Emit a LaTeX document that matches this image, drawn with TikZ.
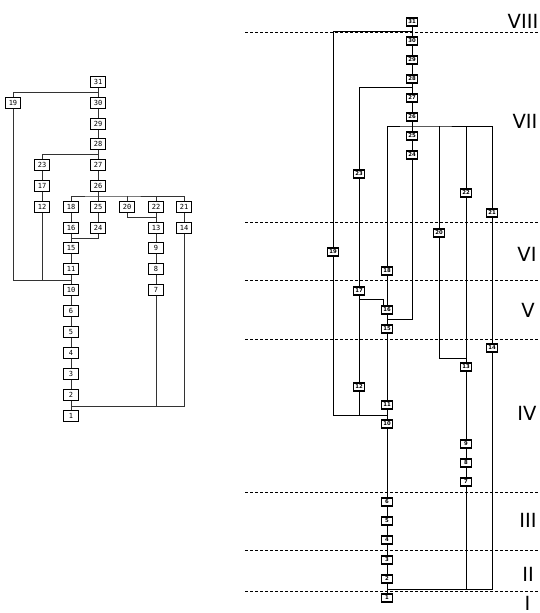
\documentclass[tikz,border=0pt]{standalone}
\usepackage{fontspec}
\setmainfont{DejaVu Sans}
\newfontfamily\monofnt{DejaVu Sans Mono}
\begin{document}
\begin{tikzpicture}[x=1pt,y=-1pt,
  lbox/.style={draw, line width=0.7pt, fill=white, minimum width=14.5pt, minimum height=10.5pt, inner sep=0pt, font=\monofnt\fontsize{7}{7}\selectfont},
  rbox/.style={draw, line width=1.1pt, fill=white, minimum width=11.5pt, minimum height=8pt, inner sep=0pt, font=\fontsize{5.3}{5.3}\selectfont\bfseries},
  lline/.style={line width=0.6pt, black!80},
  rline/.style={line width=0.6pt, black},
  era/.style={line width=0.6pt, dash pattern=on 2.7pt off 2.3pt},
  lab/.style={inner sep=0pt, font=\fontsize{19.5}{19.5}\selectfont}]
\useasboundingbox (0,0) rectangle (539,613);

% ---------- left tree ----------
\node[lbox] (L31) at (98,82) {31};
\node[lbox] (L30) at (98,103) {30};
\node[lbox] (L19) at (13,103) {19};
\node[lbox] (L29) at (98,124) {29};
\node[lbox] (L28) at (98,144) {28};
\node[lbox] (L27) at (98,165) {27};
\node[lbox] (L23) at (42,165) {23};
\node[lbox] (L26) at (98,186) {26};
\node[lbox] (L17) at (42,186) {17};
\node[lbox] (L12) at (42,207) {12};
\node[lbox] (L18) at (71,207) {18};
\node[lbox] (L25) at (98,207) {25};
\node[lbox] (L20) at (127,207) {20};
\node[lbox] (L22) at (156,207) {22};
\node[lbox] (L21) at (184,207) {21};
\node[lbox] (L16) at (71,228) {16};
\node[lbox] (L24) at (98,228) {24};
\node[lbox] (L13) at (156,228) {13};
\node[lbox] (L14) at (184,228) {14};
\node[lbox] (L15) at (71,248) {15};
\node[lbox] (L9) at (156,248) {9};
\node[lbox] (L11) at (71,269) {11};
\node[lbox] (L8) at (156,269) {8};
\node[lbox] (L10) at (71,290) {10};
\node[lbox] (L7) at (156,290) {7};
\node[lbox] (L6) at (71,311) {6};
\node[lbox] (L5) at (71,332) {5};
\node[lbox] (L4) at (71,353) {4};
\node[lbox] (L3) at (71,374) {3};
\node[lbox] (L2) at (71,395) {2};
\node[lbox] (L1) at (71,416) {1};

\coordinate (j1) at (98,92.5);
\coordinate (j2) at (98,154.5);
\coordinate (j3) at (98,196);
\coordinate (j4) at (71,238);
\coordinate (j5) at (156,217);
\coordinate (j6) at (71,280);
\coordinate (j7) at (71,406);

\begin{scope}[lline]
\draw (L19) |- (j1);
\draw (L31) -- (L30);
\draw (L30) -- (L29);
\draw (L29) -- (L28);
\draw (L23) |- (j2);
\draw (L28) -- (L27);
\draw (L27) -- (L26);
\draw (L23) -- (L17);
\draw (L17) -- (L12);
\draw (L18) |- (j3) -| (L21);
\draw (L26) -- (L25);
\draw (L20) -- (L20 |- j3);
\draw (L22) -- (L22 |- j3);
\draw (L18) -- (L16);
\draw (L25) -- (L24);
\draw (L24) |- (j4);
\draw (L16) -- (L15);
\draw (L20) |- (j5);
\draw (L22) -- (L13);
\draw (L13) -- (L9);
\draw (L9) -- (L8);
\draw (L8) -- (L7);
\draw (L21) -- (L14);
\draw (L15) -- (L11);
\draw (L19) |- (j6);
\draw (L12) -- (L12 |- j6);
\draw (L11) -- (L10);
\draw (L10) -- (L6);
\draw (L6) -- (L5);
\draw (L5) -- (L4);
\draw (L4) -- (L3);
\draw (L3) -- (L2);
\draw (L14) |- (j7);
\draw (L7) -- (L7 |- j7);
\draw (L2) -- (L1);
\end{scope}

% ---------- right diagram: era lines ----------
\coordinate (e0a) at (245,32.5); \coordinate (e0b) at (539,32.5);
\coordinate (e1a) at (245,222); \coordinate (e1b) at (539,222);
\coordinate (e2a) at (245,280); \coordinate (e2b) at (539,280);
\coordinate (e3a) at (245,339); \coordinate (e3b) at (539,339);
\coordinate (e4a) at (245,492); \coordinate (e4b) at (539,492);
\coordinate (e5a) at (245,550); \coordinate (e5b) at (539,550);
\coordinate (e6a) at (245,591); \coordinate (e6b) at (539,591);
\draw[era] (e0a) -- (e0b);
\draw[era] (e1a) -- (e1b);
\draw[era] (e2a) -- (e2b);
\draw[era] (e3a) -- (e3b);
\draw[era] (e4a) -- (e4b);
\draw[era] (e5a) -- (e5b);
\draw[era] (e6a) -- (e6b);

\node[lab] (VIII) at (523,21) {VIII};
\node[lab] (VII) at (525,121) {VII};
\node[lab] (VI) at (527,254) {VI};
\node[lab] (V) at (528,310) {V};
\node[lab] (IV) at (527,413) {IV};
\node[lab] (III) at (528,520) {III};
\node[lab] (II) at (528,574) {II};
\node[lab] (I) at (527.5,603) {I};

% ---------- right diagram: nodes ----------
\node[rbox] (R31) at (412,22) {31};
\node[rbox] (R30) at (412,41) {30};
\node[rbox] (R29) at (412,60) {29};
\node[rbox] (R28) at (412,79) {28};
\node[rbox] (R27) at (412,98) {27};
\node[rbox] (R26) at (412,117) {26};
\node[rbox] (R25) at (412,136) {25};
\node[rbox] (R24) at (412,155) {24};
\node[rbox] (R23) at (359,174) {23};
\node[rbox] (R22) at (466,193) {22};
\node[rbox] (R21) at (492,213) {21};
\node[rbox] (R20) at (439,233) {20};
\node[rbox] (R19) at (333,252) {19};
\node[rbox] (R18) at (387,271) {18};
\node[rbox] (R17) at (359,291) {17};
\node[rbox] (R16) at (387,310) {16};
\node[rbox] (R15) at (387,329) {15};
\node[rbox] (R14) at (492,348) {14};
\node[rbox] (R13) at (466,367) {13};
\node[rbox] (R12) at (359,387) {12};
\node[rbox] (R11) at (387,405) {11};
\node[rbox] (R10) at (387,424) {10};
\node[rbox] (R9) at (466,444) {9};
\node[rbox] (R8) at (466,463) {8};
\node[rbox] (R7) at (466,482) {7};
\node[rbox] (R6) at (387,502) {6};
\node[rbox] (R5) at (387,521) {5};
\node[rbox] (R4) at (387,540) {4};
\node[rbox] (R3) at (387,560) {3};
\node[rbox] (R2) at (387,579) {2};
\node[rbox] (R1) at (387,598) {1};

\coordinate (k1) at (412,31);
\coordinate (k2) at (412,87);
\coordinate (k3) at (412,126);
\coordinate (k4) at (383,299);
\coordinate (k5) at (387,319);
\coordinate (k6) at (466,358);
\coordinate (k7) at (387,415);
\coordinate (k8) at (387,589);

\begin{scope}[rline]
\draw (R19) |- (k1);
\draw (R31) -- (R30);
\draw (R30) -- (R29);
\draw (R29) -- (R28);
\draw (R23) |- (k2);
\draw (R28) -- (R27);
\draw (R27) -- (R26);
\draw (R18) |- (k3) -| (R21);
\draw (R20) -- (R20 |- k3);
\draw (R22) -- (R22 |- k3);
\draw (R26) -- (R25);
\draw (R25) -- (R24);
\draw (R23) -- (R17);
\draw (R17) -- (R12);
\draw (R18) -- (R16);
\draw (R17) |- (k4) -- (k4 |- R16.north);
\draw (R24) |- (k5);
\draw (R16) -- (R15);
\draw (R15) -- (R11);
\draw (R20) |- (k6);
\draw (R22) -- (R13);
\draw (R13) -- (R9);
\draw (R9) -- (R8);
\draw (R8) -- (R7);
\draw (R21) -- (R14);
\draw (R19) |- (k7);
\draw (R12) -- (R12 |- k7);
\draw (R11) -- (R10);
\draw (R10) -- (R6);
\draw (R6) -- (R5);
\draw (R5) -- (R4);
\draw (R4) -- (R3);
\draw (R3) -- (R2);
\draw (R14) |- (k8);
\draw (R7) -- (R7 |- k8);
\draw (R2) -- (R1);
\end{scope}
\end{tikzpicture}
\end{document}
